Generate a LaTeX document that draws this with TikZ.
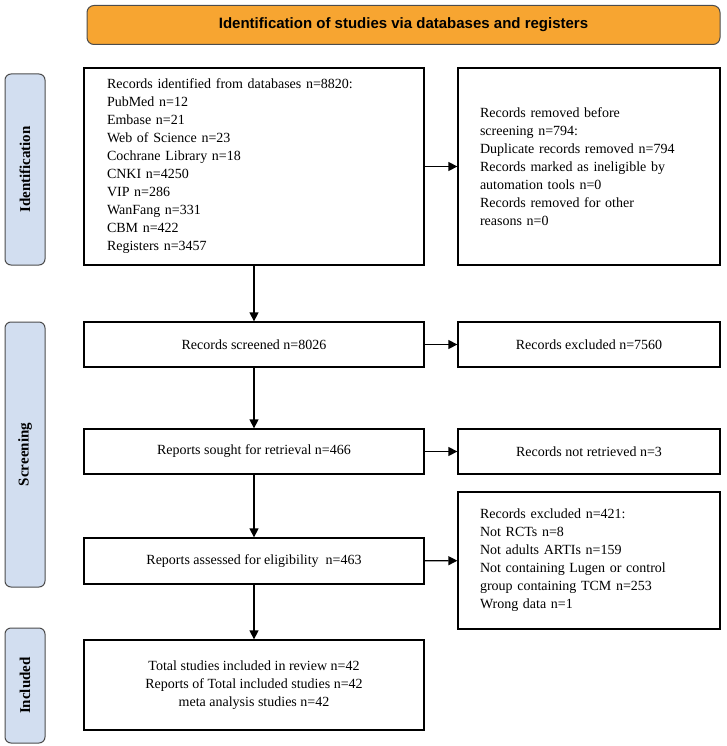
\documentclass[tikz,border=0pt]{standalone}
\usepackage{fontspec}
\setmainfont{Liberation Serif}
\newfontfamily\headfont{Liberation Sans}
\usetikzlibrary{arrows.meta, positioning}

\definecolor{bannerorange}{HTML}{F7A531}
\definecolor{phaseblue}{HTML}{D2DEF0}

\begin{document}
\begin{tikzpicture}[
    x=1pt, y=-1pt,
    box/.style={rectangle, draw, line width=1.3pt, fill=white, font=\fontsize{14}{18}\selectfont, inner sep=0pt},
    listbox/.style={box, align=left},
    phase/.style={rectangle, draw=black!70, fill=phaseblue, rounded corners=6pt, line width=1pt, minimum width=40pt, font=\fontsize{15}{18}\selectfont\bfseries},
    banner/.style={rectangle, draw=black!70, fill=bannerorange, rounded corners=7pt, line width=1pt, font=\headfont\fontsize{15}{18}\selectfont\bfseries},
    flow/.style={-{Triangle[length=9pt, width=9pt]}, line width=1.3pt}
]
\useasboundingbox (0,0) rectangle (726,746);

% Banner
\node[banner, minimum width=633pt, minimum height=39pt] (head) at (403.5,25) {Identification of studies via databases and registers};

% Phase labels
\node[phase, minimum height=191pt] (ident) at (25,169.5) {\rotatebox{90}{Identification}};
\node[phase, minimum height=265pt] (screen) at (25,454.5) {\rotatebox{90}{Screening}};
\node[phase, minimum height=115pt] (incl) at (25,685.5) {\rotatebox{90}{Included}};

% Left column
\node[listbox, minimum width=340pt, minimum height=197pt, text width=294pt] (found) at (254,166.5) {Records identified from databases n=8820:\\PubMed n=12\\Embase n=21\\Web of Science n=23\\Cochrane Library n=18\\CNKI n=4250\\VIP n=286\\WanFang n=331\\CBM n=422\\Registers n=3457};
\node[box, minimum width=340pt, minimum height=45pt] (screened) at (254,344.5) {Records screened n=8026};
\node[box, minimum width=340pt, minimum height=45pt] (sought) at (254,451.5) {Reports sought for retrieval n=466};
\node[box, minimum width=340pt, minimum height=46pt] (assessed) at (254,561) {Reports assessed for eligibility\ \ n=463};
\node[box, align=center, minimum width=340pt, minimum height=90pt] (included) at (254,685) {Total studies included in review n=42\\Reports of Total included studies n=42\\meta analysis studies n=42};

% Right column
\node[listbox, minimum width=262pt, minimum height=197pt, text width=218pt] (removed) at (589,166.5) {Records removed before\\screening n=794:\\Duplicate records removed n=794\\Records marked as ineligible by\\automation tools n=0\\Records removed for other\\reasons n=0};
\node[box, minimum width=262pt, minimum height=45pt] (excluded) at (589,344.5) {Records excluded n=7560};
\node[box, minimum width=262pt, minimum height=45pt] (notret) at (589,451.5) {Records not retrieved n=3};
\node[listbox, minimum width=262pt, minimum height=137pt, text width=218pt] (reasons) at (589,560.5) {Records excluded n=421:\\Not RCTs n=8\\Not adults ARTIs n=159\\Not containing Lugen or control\\group containing TCM n=253\\Wrong data n=1};

% Arrows
\draw[flow] (found) -- (screened);
\draw[flow] (screened) -- (sought);
\draw[flow] (sought) -- (assessed);
\draw[flow] (assessed) -- (included);
\draw[flow] (found) -- (removed);
\draw[flow] (screened) -- (excluded);
\draw[flow] (sought) -- (notret);
\draw[flow] (assessed) -- (reasons);

\end{tikzpicture}
\end{document}
